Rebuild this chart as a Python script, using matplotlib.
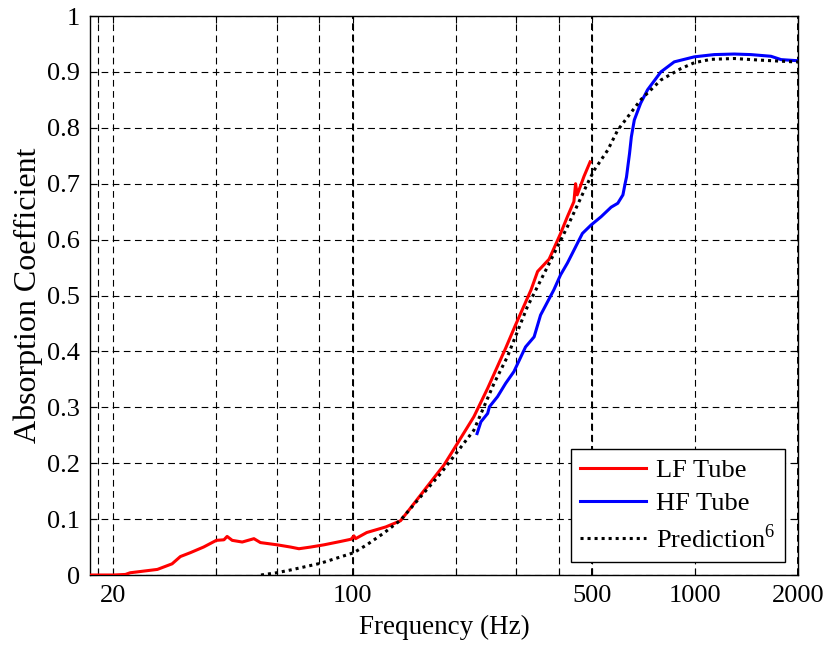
import numpy as np
import matplotlib
matplotlib.use("Agg")
import matplotlib.pyplot as plt

plt.rcParams['font.family'] = ['Liberation Serif', 'DejaVu Serif']
plt.rcParams['mathtext.fontset'] = 'custom'
plt.rcParams['mathtext.rm'] = 'Liberation Serif'

# LF Tube
lf_f = [17.1, 20, 21.7, 22.4, 26.9, 29.7, 31.4, 33.6, 36.7, 40, 42.1, 43.0, 44.5, 47.6, 51.5,
        53.8, 60.2, 65.9, 69.7, 75.4, 82.5, 92.2, 99, 100.9, 102, 110, 125, 138, 146, 165, 185,
        198, 226, 248, 280, 299, 332, 347, 375, 405, 424, 443, 448, 453, 474, 494]
lf_a = [0.0, 0.0, 0.001, 0.004, 0.010, 0.020, 0.033, 0.040, 0.050, 0.062, 0.063, 0.069, 0.062,
        0.059, 0.065, 0.058, 0.054, 0.050, 0.047, 0.050, 0.054, 0.060, 0.064, 0.070, 0.065,
        0.076, 0.086, 0.097, 0.116, 0.158, 0.197, 0.226, 0.283, 0.334, 0.406, 0.447, 0.510,
        0.543, 0.565, 0.611, 0.641, 0.668, 0.700, 0.680, 0.713, 0.739]

# HF Tube
hf_f = [231, 237, 248, 251, 265, 280, 296, 320, 339, 354, 387, 405, 424, 443, 469, 497, 532,
        569, 595, 616, 625, 631, 638, 644, 652, 665, 694, 727, 795, 870, 996, 1138, 1302, 1456,
        1667, 1785, 2000]
hf_a = [0.253, 0.274, 0.289, 0.301, 0.319, 0.343, 0.364, 0.408, 0.426, 0.465, 0.510, 0.537,
        0.558, 0.581, 0.611, 0.626, 0.641, 0.658, 0.665, 0.680, 0.700, 0.712, 0.735, 0.754,
        0.784, 0.814, 0.844, 0.868, 0.900, 0.918, 0.927, 0.931, 0.932, 0.931, 0.928, 0.922,
        0.920]

# Prediction
pr_f = [54, 60, 65.9, 80.6, 100.9, 110, 123, 138, 158, 181, 202, 226, 259, 283, 324, 371, 424,
        485, 508, 556, 595, 694, 795, 910, 996, 1113, 1302, 1557, 1950, 2000]
pr_a = [0.0, 0.004, 0.009, 0.021, 0.040, 0.054, 0.0745, 0.098, 0.140, 0.182, 0.220, 0.259,
        0.343, 0.390, 0.480, 0.5515, 0.623, 0.700, 0.7245, 0.760, 0.796, 0.850, 0.8855, 0.906,
        0.9165, 0.9225, 0.924, 0.921, 0.918, 0.918]

grid_x = [18, 20, 40, 60, 80, 100, 200, 300, 400, 500, 1000, 2000]
bold_grid_x = [100, 500, 2000]
xtick_labels = ['', '20', '', '', '', '100', '', '', '', '500', '1000', '2000']
y_ticks = [0, 0.1, 0.2, 0.3, 0.4, 0.5, 0.6, 0.7, 0.8, 0.9, 1.0]
y_labels = ['0', '0.1', '0.2', '0.3', '0.4', '0.5', '0.6', '0.7', '0.8', '0.9', '1']

fig = plt.figure(figsize=(8.28, 6.46), dpi=100)
ax = fig.add_axes([0.1087, 0.1099, 0.8551, 0.8653])

ax.plot(lf_f, lf_a, color='#ff0000', lw=2.2, label='LF Tube', zorder=3)
ax.plot(hf_f, hf_a, color='#0000ff', lw=2.2, label='HF Tube', zorder=3)
ax.plot(pr_f, pr_a, color='black', lw=2.2, ls=(0, (1, 1.3)), label='Prediction$^6$', zorder=4)

ax.set_xscale('log')
ax.set_xlim(17.1, 2000)
ax.set_ylim(0, 1)
ax.set_xticks(grid_x)
ax.set_xticklabels(xtick_labels)
ax.xaxis.set_minor_locator(matplotlib.ticker.NullLocator())
ax.set_yticks(y_ticks)
ax.set_yticklabels(y_labels)
ax.tick_params(direction='in', top=True, right=True, labelsize=19, length=5, width=0.8)
ax.tick_params(axis='x', pad=7)
ax.tick_params(axis='y', pad=7)
ax.grid(True, which='major', color='black', ls=(0, (6, 4)), lw=0.8)
for xv in bold_grid_x:
    ax.axvline(xv, color='black', ls=(0, (3.43, 2.29)), lw=1.4, zorder=1)
for s in ax.spines.values():
    s.set_linewidth(1.0)

ax.set_xlabel('Frequency (Hz)', fontsize=19.5, labelpad=6)
ax.set_ylabel('Absorption Coefficient', fontsize=23, labelpad=3)

leg = ax.legend(loc='lower right', fontsize=19, frameon=True, fancybox=False,
                edgecolor='black', framealpha=1, handlelength=2.5, handletextpad=0.4,
                borderpad=0.35, labelspacing=0.35, borderaxespad=0.5)
leg.get_frame().set_linewidth(1.0)

fig.savefig('out.png', dpi=100)
